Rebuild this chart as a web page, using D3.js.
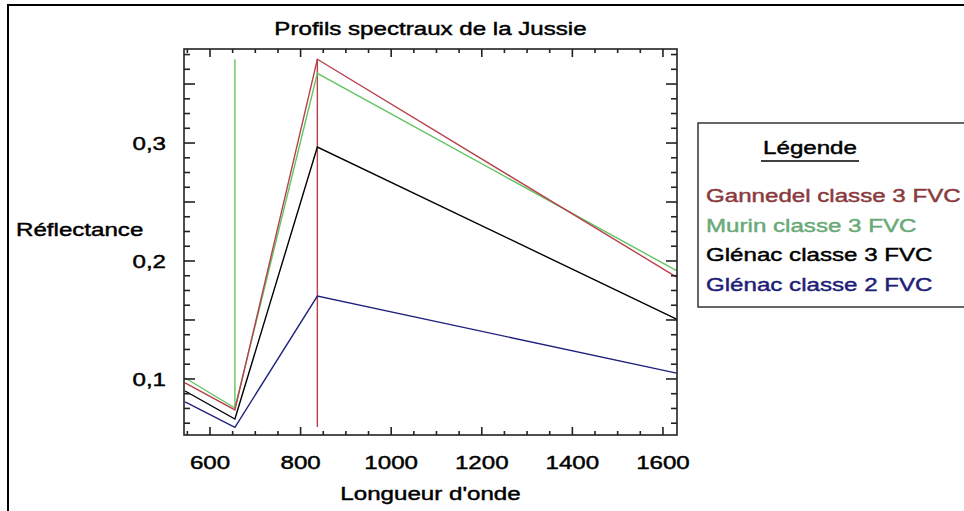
<!DOCTYPE html>
<html><head><meta charset="utf-8">
<script src="https://cdn.jsdelivr.net/npm/d3@7"></script>
<style>
html,body{margin:0;padding:0;background:#fff;}
svg{display:block;}
text{font-family:"Liberation Sans",Arial,sans-serif;font-weight:normal;stroke-width:0.45;}
</style></head>
<body>
<svg id="c" width="964" height="511"></svg>
<script>
// ---- data ----
const wavelengths = [545, 655, 837, 1630];
const gannedel = [0.0966, 0.0737, 0.371, 0.1864];
const murin    = [0.1008, 0.0754, 0.359, 0.1918];
const glenac3  = [0.0898, 0.0660, 0.2966, 0.1508];
const glenac2  = [0.0805, 0.0590, 0.1703, 0.1050];
const seriesNames = ["Gannedel classe 3 FVC", "Murin classe 3 FVC", "Glénac classe 3 FVC", "Glénac classe 2 FVC"];
const seriesValues = [gannedel, murin, glenac3, glenac2];
// vertical marker segments: [wavelength, low, high]
const greenMarker = [655, 0.0754, 0.371];
const redMarker = [837, 0.0593, 0.371];
const xTickLabels = [600, 800, 1000, 1200, 1400, 1600];
const yTickLabels = [0.1, 0.2, 0.3];
const title = "Profils spectraux de la Jussie";
const xTitle = "Longueur d'onde";
const yTitle = "Réflectance";
const legendTitle = "Légende";

// ---- styles ----
const lineColors = ["#b8404c", "#62c462", "#000000", "#20207e"];
const textColors = ["#8a3a3e", "#6aaa78", "#000000", "#1e1e78"];
const FS = 19, SX = 1.27;

const svg = d3.select("#c");
const L = 184, R = 677, T = 49, B = 435;
const x = d3.scaleLinear().domain([542.6, 1631]).range([L, R]);
const y = d3.scaleLinear().domain([0.0525, 0.3797]).range([B, T]);

function label(sel, px, py, txt, anchor, color, fs, sx) {
  const g = sel.append("g").attr("transform", `translate(${px},${py}) scale(${sx||SX},1)`);
  return g.append("text").attr("text-anchor", anchor).attr("fill", color || "#000")
    .attr("stroke", color || "#000")
    .attr("font-size", fs || FS).text(txt);
}

// outer border
svg.append("path").attr("d", "M8,1000 L8,5 L2000,5").attr("fill","none").attr("stroke","#000").attr("stroke-width",2);

// clip
svg.append("clipPath").attr("id","clip").append("rect").attr("x",L).attr("y",T).attr("width",R-L).attr("height",B-T);

const plot = svg.append("g").attr("clip-path","url(#clip)");
const line = d3.line().x(d => x(d[0])).y(d => y(d[1]));
// markers
plot.append("path").attr("d", line([[greenMarker[0], greenMarker[1]],[greenMarker[0], greenMarker[2]]]))
  .attr("stroke", lineColors[1]).attr("stroke-width", 1.4).attr("fill","none");
plot.append("path").attr("d", line([[redMarker[0], redMarker[1]],[redMarker[0], redMarker[2]]]))
  .attr("stroke", lineColors[0]).attr("stroke-width", 1.4).attr("fill","none");
// series (draw in reverse so red on top of green)
[3,2,1,0].forEach(i => {
  plot.append("path").attr("d", line(wavelengths.map((w,j)=>[w, seriesValues[i][j]])))
    .attr("stroke", lineColors[i]).attr("stroke-width", 1.4).attr("fill","none");
});

// axes frame and ticks
const axisColor = "#222";
const xMinor = d3.range(550, 1631, 50);
const yMinor = d3.range(0, 0.38, 0.0125).filter(v => v >= 0.0525 && v <= 0.3797);
const isMajorX = v => Math.abs(v % 200) < 1e-6;
const isMajorY = v => Math.abs(Math.round(v/0.05)*0.05 - v) < 1e-6;
const ax = svg.append("g").attr("stroke", axisColor).attr("stroke-width", 1.6);
xMinor.forEach(v => {
  const len = isMajorX(v) ? 8 : 4;
  ax.append("line").attr("x1", x(v)).attr("x2", x(v)).attr("y1", B).attr("y2", B-len);
  ax.append("line").attr("x1", x(v)).attr("x2", x(v)).attr("y1", T).attr("y2", T+len);
});
yMinor.forEach(v => {
  const len = isMajorY(v) ? 11 : 6;
  ax.append("line").attr("y1", y(v)).attr("y2", y(v)).attr("x1", L).attr("x2", L+len);
  ax.append("line").attr("y1", y(v)).attr("y2", y(v)).attr("x1", R).attr("x2", R-len);
});
ax.append("rect").attr("x", L).attr("y", T).attr("width", R-L).attr("height", B-T).attr("fill","none");

// tick labels
xTickLabels.forEach(v => label(svg, x(v), 469, String(v), "middle"));
yTickLabels.forEach(v => label(svg, 166, y(v)+7, String(v).replace(".", ","), "end"));

// titles
label(svg, (L+R)/2, 35, title, "middle");
label(svg, (L+R)/2, 500, xTitle, "middle");
label(svg, 16, 236, yTitle, "start");

// legend
svg.append("rect").attr("x", 698).attr("y", 123).attr("width", 300).attr("height", 184)
  .attr("fill","#fff").attr("stroke","#333").attr("stroke-width",1.5);
label(svg, 810, 154, legendTitle, "middle");
svg.append("line").attr("x1", 761).attr("x2", 859).attr("y1", 161).attr("y2", 161).attr("stroke","#000").attr("stroke-width",1.5);
seriesNames.forEach((n,i) => label(svg, 706, 202 + i*29.5, n, "start", textColors[i]));
</script>
</body></html>
